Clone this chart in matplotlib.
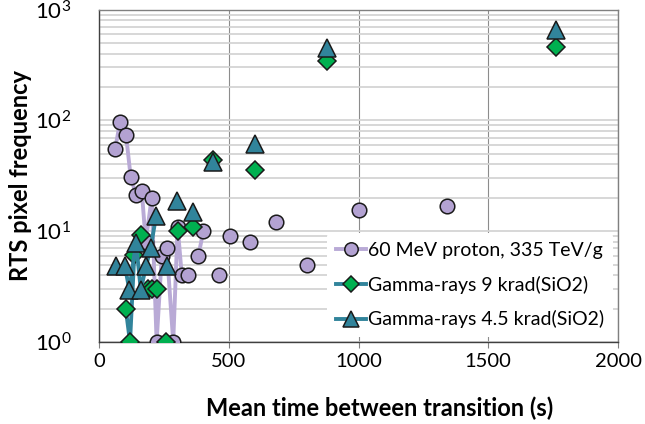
import matplotlib
matplotlib.use("Agg")
import matplotlib.pyplot as plt
from matplotlib.ticker import LogLocator, FixedLocator, FuncFormatter, NullFormatter
import numpy as np

plt.rcParams['font.family'] = ['Lato', 'DejaVu Sans']
plt.rcParams['mathtext.default'] = 'regular'

# 60 MeV proton, 335 TeV/g
proton_t = [62, 81, 104, 122, 143, 165, 180, 203, 222, 242, 261, 286, 303, 319, 342,
            383, 402, 464, 505, 582, 682, 800, 1003, 1340]
proton_f = [55, 96, 74, 31, 21, 23, 8, 20, 1, 6, 7, 1, 11, 4, 4,
            6, 10, 4, 9, 8, 12, 5, 15.5, 17]

# Gamma-rays 9 krad(SiO2)
g9_t = [103, 119.5, 136, 162, 190, 205, 222, 258, 303, 361, 440, 601, 880, 1760]
g9_f = [2.0, 1, 6.1, 9.2, 3, 3, 3, 1, 10, 11, 44, 36, 340, 455]

# Gamma-rays 4.5 krad(SiO2)
g45_t = [65.5, 100, 117, 142.6, 161, 181, 199, 220, 261, 300, 361, 440, 601, 880, 1760]
g45_f = [4.8, 4.8, 2.95, 7.9, 2.95, 4.8, 7.0, 13.7, 4.9, 18.7, 14.8, 42, 61, 453, 655]

series_labels = ["60 MeV proton, 335 TeV/g",
                 "Gamma-rays 9 krad(SiO2)",
                 "Gamma-rays 4.5 krad(SiO2)"]

# index runs joined by connecting lines
proton_runs = [(0, 15), (15, 17)]
g9_runs = [(0, 4)]
g45_runs = [(0, 8)]

purple = "#B3A2D2"
purple_line = "#B9AAD6"
green = "#00B050"
teal = "#31849B"
edge = "#1A1A1A"

fig = plt.figure(figsize=(6.45, 4.24), dpi=100)
ax = fig.add_axes([99 / 645, 82 / 424, 519 / 645, 332.5 / 424])

def draw(t, f, runs, lc, marker, mfc, ms, label, z):
    t = np.asarray(t, float)
    f = np.asarray(f, float)
    for a, b in runs:
        ax.plot(t[a:b], f[a:b], color=lc, lw=2.8, zorder=z, solid_capstyle='round')
    ax.plot(t, f, linestyle='none', marker=marker, mfc=mfc, mec=edge, mew=1.1,
            ms=ms, zorder=z + 0.5)
    return plt.Line2D([], [], color=lc, lw=2.8, marker=marker, mfc=mfc, mec=edge,
                      mew=1.1, ms=ms * 0.92, label=label)

h1 = draw(proton_t, proton_f, proton_runs, purple_line, 'o', purple, 10.5, series_labels[0], 3)
h2 = draw(g9_t, g9_f, g9_runs, teal, 'D', green, 9, series_labels[1], 4)
h3 = draw(g45_t, g45_f, g45_runs, teal, '^', teal, 12.5, series_labels[2], 5)

ax.set_yscale('log')
ax.set_ylim(1, 1000)
ax.set_xlim(0, 2000)

ax.xaxis.set_major_locator(FixedLocator([0, 500, 1000, 1500, 2000]))
ax.yaxis.set_major_locator(LogLocator(base=10, numticks=10))
ax.yaxis.set_minor_locator(LogLocator(base=10, subs=np.arange(2, 10), numticks=10))
ax.yaxis.set_minor_formatter(NullFormatter())
ax.yaxis.set_major_formatter(FuncFormatter(lambda v, p: r"$10^{%d}$" % int(round(np.log10(v)))))

# gridlines
ax.grid(True, which='both', axis='y', color='#D4D4D4', lw=1.3, zorder=0)
ax.grid(True, which='major', axis='x', color='#8C8C8C', lw=0.8, zorder=0)
ax.set_axisbelow(True)

for s in ['left', 'bottom']:
    ax.spines[s].set_color('#404040')
    ax.spines[s].set_linewidth(1.0)
for s in ['top', 'right']:
    ax.spines[s].set_color('#808080')
    ax.spines[s].set_linewidth(1.0)

ax.tick_params(axis='y', which='both', length=0, pad=20, labelsize=16, colors='black')
ax.tick_params(axis='x', which='major', length=4, color='#808080', pad=4,
               labelsize=14.5, labelcolor='black')

ax.set_xlabel("Mean time between transition (s)", fontsize=17, fontweight='bold')
ax.xaxis.set_label_coords(0.54, -0.165)
ax.set_ylabel("RTS pixel frequency", fontsize=17, fontweight='bold', labelpad=2)

leg = ax.legend(handles=[h1, h2, h3], loc='lower right', frameon=True, fontsize=14,
                handlelength=1.55, handletextpad=0.1, borderaxespad=0.25,
                labelspacing=0.85, borderpad=0.45)
leg.get_frame().set_facecolor('white')
leg.get_frame().set_edgecolor('none')
leg.get_frame().set_alpha(1.0)
leg.set_zorder(10)

fig.savefig("out.png", dpi=100)
